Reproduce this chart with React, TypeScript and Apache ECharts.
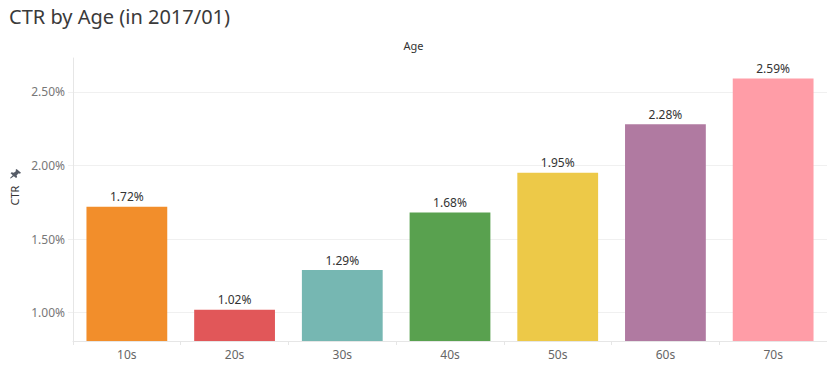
import React, { useEffect, useRef } from "react";
import * as echarts from "echarts";

const categories = ["10s", "20s", "30s", "40s", "50s", "60s", "70s"];
const ctrValues = [1.72, 1.02, 1.29, 1.68, 1.95, 2.28, 2.59];
const barColors = ["#F28E2B", "#E15759", "#76B7B2", "#59A14F", "#EDC948", "#B07AA1", "#FF9DA7"];
const yTicks = [1.0, 1.5, 2.0, 2.5];
const yMin = 0.808;
const yMax = 2.73;

const FONT = "Noto Sans";

const pinPath =
  "M6 0 L10 4 L9 5 L8 4.5 L6 6.5 L6.5 8.5 L5.5 9.5 L3.5 7.5 L0.6 10 L0 9.4 L2.5 6.5 L0.5 4.5 L1.5 3.5 L3.5 4 L5.5 2 L5 1 Z";

export default function App() {
  const ref = useRef<HTMLDivElement>(null);
  useEffect(() => {
    if (!ref.current) return;
    try {
      echarts.graphic.registerShape("pin", echarts.graphic.extendPath(pinPath, {}) as any);
    } catch (e) {}
    const chart = echarts.init(ref.current, null, { renderer: "svg" });
    chart.setOption({
      animation: false,
      textStyle: { fontFamily: FONT },
      title: {
        text: "CTR by Age (in 2017/01)",
        left: 4,
        top: 1,
        textStyle: { fontFamily: FONT, fontSize: 20, fontWeight: "normal", color: "#3a3a3a" },
      },
      graphic: [
        {
          type: "text",
          left: "center",
          top: 40,
          style: { text: "Age", fontFamily: FONT, fontSize: 11, fill: "#333333" },
        },
        {
          type: "group",
          left: 10,
          top: 169,
          children: [
            {
              type: "pin",
              x: 0,
              y: 0,
              scaleX: 1.1,
              scaleY: 0.95,
              style: { fill: "#555b66" },
            },
          ],
        },
      ],
      grid: { left: 73, right: 0, top: 58, bottom: 28 },
      xAxis: {
        type: "category",
        data: categories,
        axisLine: { lineStyle: { color: "#e6e6e6" } },
        axisTick: { show: true, length: 4, lineStyle: { color: "#e6e6e6" } },
        axisLabel: { color: "#666666", fontSize: 12, fontFamily: FONT, margin: 7 },
      },
      yAxis: {
        type: "value",
        min: yMin,
        max: yMax,
        name: "CTR",
        nameLocation: "middle",
        nameRotate: 90,
        nameGap: 53,
        nameTextStyle: { fontFamily: FONT, fontSize: 11, color: "#333333", padding: [20, 0, 0, 8] },
        axisLine: { show: true, lineStyle: { color: "#e6e6e6" } },
        axisTick: { show: true, length: 5, customValues: yTicks, lineStyle: { color: "#f0f0f0" } },
        axisLabel: {
          customValues: yTicks,
          color: "#777777",
          fontSize: 12,
          fontFamily: FONT,
          margin: 8,
          formatter: (v: number) => v.toFixed(2) + "%",
        },
        splitLine: { show: true, lineStyle: { color: "#f0f0f0" } },
      },
      series: [
        {
          type: "bar",
          data: ctrValues.map((v, i) => ({ value: v, itemStyle: { color: barColors[i] } })),
          barCategoryGap: "25%",
          label: {
            show: true,
            position: "top",
            distance: 4,
            color: "#333333",
            fontSize: 12,
            fontFamily: FONT,
            formatter: (p: any) => p.value.toFixed(2) + "%",
          },
        },
      ],
    });
    return () => chart.dispose();
  }, []);
  return <div ref={ref} style={{ width: 827, height: 369, position: "absolute", left: 0, top: 0 }} />;
}
